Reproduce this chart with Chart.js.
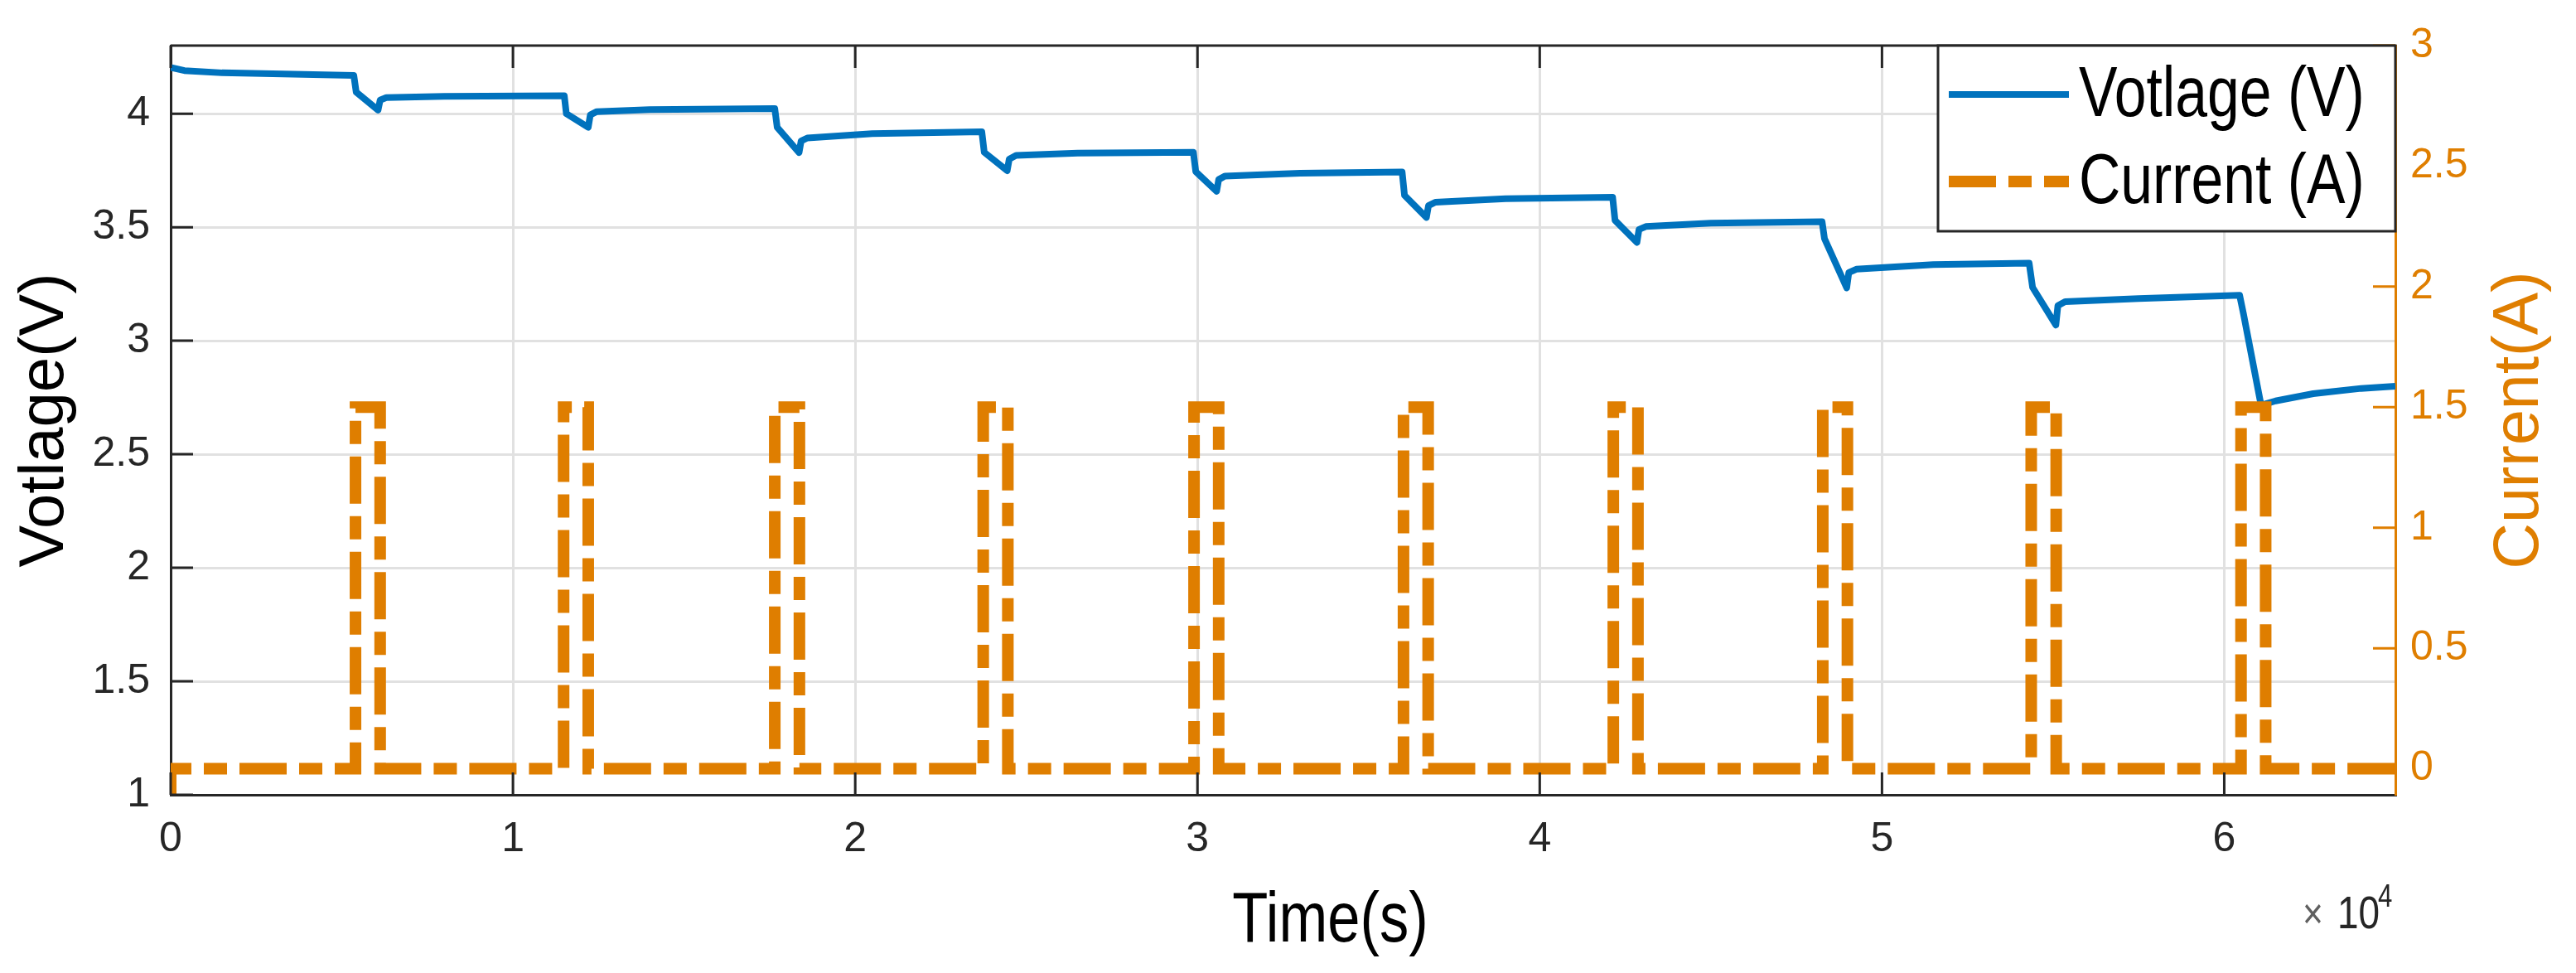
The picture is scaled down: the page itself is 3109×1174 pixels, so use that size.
<!DOCTYPE html>
<html>
<head>
<meta charset="utf-8">
<title>Votlage and Current</title>
<script src="https://cdn.jsdelivr.net/npm/chart.js@4.4.0/dist/chart.umd.min.js"></script>
<style>
  html, body { margin: 0; padding: 0; background: #fff; }
  #wrap { position: relative; width: 3109px; height: 1174px; }
</style>
</head>
<body>
<div id="wrap"><canvas id="chart"></canvas></div>
<script>
// voltage trace (time in s, voltage in V)
const voltageTime = [
  0, 400, 1500, 5350,
  5420, 6060, 6120, 6300, 8000, 11500,
  11560, 12200, 12260, 12450, 14000, 17650,
  17720, 18360, 18420, 18600, 20500, 23700,
  23770, 24440, 24500, 24700, 26500, 29880,
  29950, 30560, 30620, 30800, 33000, 35980,
  36050, 36690, 36750, 36950, 39000, 42130,
  42200, 42840, 42900, 43100, 45000, 48250,
  48320, 48970, 49030, 49250, 51500, 54300,
  54400, 55080, 55140, 55350, 57500, 60450,
  60560, 61100, 61160, 61500, 62600, 64000, 65000
];
const voltageValues = [
  4.204, 4.190, 4.180, 4.169,
  4.095, 4.016, 4.060, 4.071, 4.076, 4.079,
  4.000, 3.940, 3.995, 4.009, 4.018, 4.023,
  3.940, 3.829, 3.880, 3.893, 3.912, 3.920,
  3.830, 3.749, 3.800, 3.816, 3.826, 3.830,
  3.745, 3.658, 3.710, 3.725, 3.738, 3.743,
  3.640, 3.543, 3.595, 3.610, 3.626, 3.632,
  3.530, 3.433, 3.490, 3.503, 3.518, 3.524,
  3.450, 3.233, 3.300, 3.315, 3.335, 3.342,
  3.235, 3.069, 3.155, 3.172, 3.186, 3.200,
  3.120, 2.697, 2.720, 2.735, 2.767, 2.790, 2.800
];

// current pulses (time in s, current in A)
const currentTime = [
  0, 0,
  5400, 5400, 6120, 6120,
  11480, 11480, 12200, 12200,
  17650, 17650, 18370, 18370,
  23740, 23740, 24460, 24460,
  29900, 29900, 30620, 30620,
  36020, 36020, 36740, 36740,
  42150, 42150, 42870, 42870,
  48270, 48270, 48990, 48990,
  54360, 54360, 55090, 55090,
  60490, 60490, 61210, 61210,
  65000
];
const currentValues = [
  -0.11, 0,
  0, 1.5, 1.5, 0,
  0, 1.5, 1.5, 0,
  0, 1.5, 1.5, 0,
  0, 1.5, 1.5, 0,
  0, 1.5, 1.5, 0,
  0, 1.5, 1.5, 0,
  0, 1.5, 1.5, 0,
  0, 1.5, 1.5, 0,
  0, 1.5, 1.5, 0,
  0, 1.5, 1.5, 0,
  0
];

const xTicks = [0, 10000, 20000, 30000, 40000, 50000, 60000];
const xTickLabels = ['0', '1', '2', '3', '4', '5', '6'];
const voltageTicks = [1, 1.5, 2, 2.5, 3, 3.5, 4];
const currentTicks = [0, 0.5, 1, 1.5, 2, 2.5, 3];

const BLUE = '#0072BD';
const ORANGE = '#DF7E00';
const DARK = '#262626';
const GRID = '#E1E1E1';
const SANS = "'Liberation Sans', Arial, sans-serif";
// the figure uses a condensed face; no narrow font is installed, so squeeze it
const SQUEEZE = 0.82;

function toPoints(xs, ys) {
  return xs.map((x, i) => ({x: x, y: ys[i]}));
}

function useTicks(values) {
  return function (scale) {
    scale.ticks = values.map(v => ({value: v}));
  };
}

function narrowText(ctx, text, x, y, size, align, baseline) {
  ctx.save();
  ctx.translate(x, y);
  ctx.scale(SQUEEZE, 1);
  ctx.font = size + 'px ' + SANS;
  ctx.textAlign = align;
  ctx.textBaseline = baseline;
  ctx.fillText(text, 0, 0);
  ctx.restore();
}

// MATLAB look: closed box, inward ticks, right title, exponent, legend inside
const matlabFrame = {
  id: 'matlabFrame',
  afterDraw(chart) {
    const {ctx, chartArea: a, scales} = chart;
    const len = 27;
    ctx.save();

    ctx.lineCap = 'butt';
    ctx.setLineDash([]);
    ctx.lineWidth = 3;
    ctx.strokeStyle = DARK;
    ctx.beginPath();
    ctx.moveTo(a.left, a.top);
    ctx.lineTo(a.right, a.top);
    xTicks.forEach(v => {
      const px = scales.x.getPixelForValue(v);
      ctx.moveTo(px, a.bottom);
      ctx.lineTo(px, a.bottom - len);
      ctx.moveTo(px, a.top);
      ctx.lineTo(px, a.top + len);
    });
    voltageTicks.forEach(v => {
      const py = scales.y.getPixelForValue(v);
      ctx.moveTo(a.left, py);
      ctx.lineTo(a.left + len, py);
    });
    ctx.stroke();

    ctx.strokeStyle = ORANGE;
    ctx.beginPath();
    currentTicks.forEach(v => {
      const py = scales.y1.getPixelForValue(v);
      ctx.moveTo(a.right, py);
      ctx.lineTo(a.right - len, py);
    });
    ctx.stroke();

    // legend box in the top right corner
    const boxW = 552, boxH = 224;
    const bx = a.right - boxW, by = a.top;
    ctx.fillStyle = '#fff';
    ctx.fillRect(bx, by, boxW, boxH);
    ctx.lineWidth = 3;
    ctx.strokeStyle = DARK;
    ctx.strokeRect(bx, by, boxW, boxH);
    chart.data.datasets.forEach((ds, i) => {
      const ry = by + 59 + i * 105;
      ctx.save();
      ctx.strokeStyle = ds.borderColor;
      ctx.lineWidth = ds.borderWidth;
      ctx.setLineDash(ds.borderDash || []);
      ctx.beginPath();
      ctx.moveTo(bx + 13, ry);
      ctx.lineTo(bx + 158, ry);
      ctx.stroke();
      ctx.restore();
      ctx.fillStyle = '#000';
      narrowText(ctx, ds.label, bx + 170, ry + 3, 85, 'left', 'middle');
    });

    // x axis title, a little right of centre as in the figure
    ctx.fillStyle = '#000';
    narrowText(ctx, 'Time(s)', (a.left + a.right) / 2 + 57, a.bottom + 153, 86, 'center', 'middle');

    // exponent under the x axis
    ctx.fillStyle = '#606060';
    narrowText(ctx, '\u00d7', a.right - 112, a.bottom + 161, 52, 'left', 'alphabetic');
    ctx.fillStyle = DARK;
    narrowText(ctx, '10', a.right - 70, a.bottom + 161, 56, 'left', 'alphabetic');
    narrowText(ctx, '4', a.right - 21, a.bottom + 135, 38, 'left', 'alphabetic');

    // right axis title, reading bottom to top like the left one
    ctx.save();
    ctx.translate(a.right + 151, (a.top + a.bottom) / 2);
    ctx.rotate(-Math.PI / 2);
    ctx.fillStyle = ORANGE;
    ctx.font = '77px ' + SANS;
    ctx.textAlign = 'center';
    ctx.textBaseline = 'middle';
    ctx.fillText('Current(A)', 0, 0);
    ctx.restore();

    ctx.restore();
  }
};

new Chart(document.getElementById('chart'), {
  type: 'line',
  data: {
    datasets: [
      {
        label: 'Votlage (V)',
        data: toPoints(voltageTime, voltageValues),
        yAxisID: 'y',
        borderColor: BLUE,
        borderWidth: 8,
        borderJoinStyle: 'round',
        pointRadius: 0,
        tension: 0,
        order: 1
      },
      {
        label: 'Current (A)',
        data: toPoints(currentTime, currentValues),
        yAxisID: 'y1',
        borderColor: ORANGE,
        borderWidth: 14,
        borderDash: [57, 15, 28, 15],
        pointRadius: 0,
        tension: 0,
        order: 0
      }
    ]
  },
  options: {
    responsive: true,
    maintainAspectRatio: false,
    animation: false,
    layout: {padding: {top: 54, left: 0, right: 0, bottom: 0}},
    plugins: {
      legend: {display: false},
      tooltip: {enabled: false}
    },
    scales: {
      x: {
        type: 'linear',
        position: 'bottom',
        min: 0,
        max: 65000,
        afterBuildTicks: useTicks(xTicks),
        afterFit(scale) { scale.height = 215; },
        grid: {color: GRID, lineWidth: 3, drawTicks: false},
        border: {color: DARK, width: 3},
        ticks: {
          color: DARK,
          font: {family: SANS, size: 50},
          padding: 24,
          autoSkip: false,
          maxRotation: 0,
          callback: (v, i) => xTickLabels[i]
        }
      },
      y: {
        type: 'linear',
        position: 'left',
        min: 1,
        max: 4.3,
        afterBuildTicks: useTicks(voltageTicks),
        afterFit(scale) { scale.width = 206; },
        grid: {color: GRID, lineWidth: 3, drawTicks: false},
        border: {color: DARK, width: 3},
        ticks: {
          color: DARK,
          font: {family: SANS, size: 50},
          padding: 25,
          callback: v => String(v)
        },
        title: {
          display: true,
          text: 'Votlage(V)',
          color: '#000',
          font: {family: SANS, size: 76},
          padding: {top: 9, bottom: 0}
        }
      },
      y1: {
        type: 'linear',
        position: 'right',
        min: -0.108,
        max: 3,
        afterBuildTicks: useTicks(currentTicks),
        afterFit(scale) { scale.width = 218; },
        grid: {display: false, drawTicks: false},
        border: {color: ORANGE, width: 3},
        ticks: {
          color: ORANGE,
          font: {family: SANS, size: 50},
          padding: 18,
          callback: v => String(v)
        }
      }
    }
  },
  plugins: [matlabFrame]
});
</script>
</body>
</html>
